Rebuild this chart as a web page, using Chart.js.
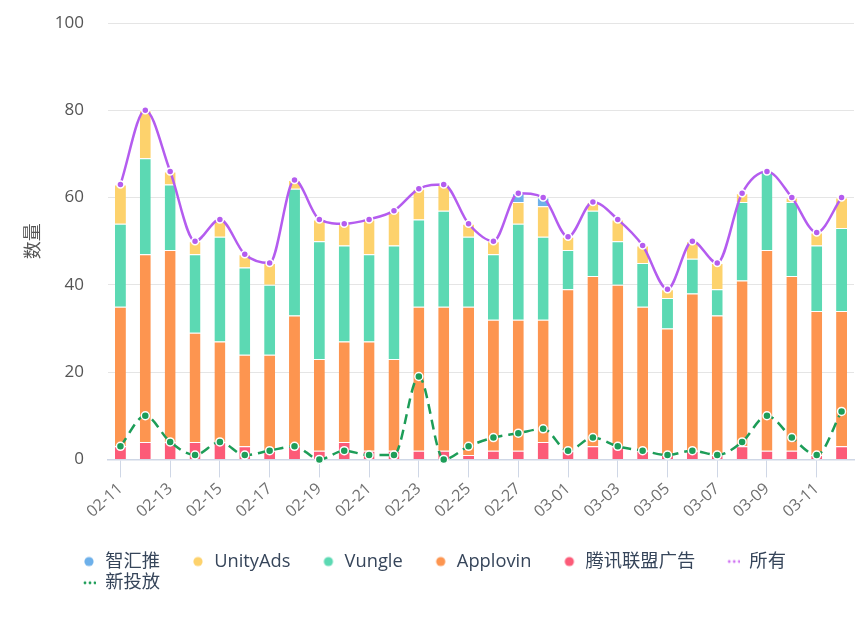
<!DOCTYPE html>
<html>
<head>
<meta charset="utf-8">
<script src="https://cdn.jsdelivr.net/npm/chart.js@4.4.1/dist/chart.umd.min.js"></script>
<style>
  body { margin: 0; background: #fff; }
  #wrap { width: 865px; height: 617px; }
</style>
</head>
<body>
<div id="wrap"><canvas id="mycanvas"></canvas></div>
<script>
var dates = ['02-11','02-12','02-13','02-14','02-15','02-16','02-17','02-18','02-19','02-20',
             '02-21','02-22','02-23','02-24','02-25','02-26','02-27','02-28','03-01','03-02',
             '03-03','03-04','03-05','03-06','03-07','03-08','03-09','03-10','03-11','03-12'];
var tencent  = [3,4,4,4,4,3,2,3,2,4,2,2,2,2,1,2,2,4,2,3,3,2,1,2,1,3,2,2,1,3];
var applovin = [32,43,44,25,23,21,22,30,21,23,25,21,33,33,34,30,30,28,37,39,37,33,29,36,32,38,46,40,33,31];
var vungle   = [19,22,15,18,24,20,16,29,27,22,20,26,20,22,16,15,22,19,9,15,10,10,7,8,6,18,18,17,15,19];
var unityAds = [9,11,3,3,4,3,5,2,5,5,8,8,7,6,3,3,5,7,3,2,5,4,2,4,6,2,0,1,3,7];
var zhihui   = [0,0,0,0,0,0,0,0,0,0,0,0,0,0,0,0,2,2,0,0,0,0,0,0,0,0,0,0,0,0];
var allTotal = [63,80,66,50,55,47,45,64,55,54,55,57,62,63,54,50,61,60,51,59,55,49,39,50,45,61,66,60,52,60];
var newAds   = [3,10,4,1,4,1,2,3,0,2,1,1,19,0,3,5,6,7,2,5,3,2,1,2,1,4,10,5,1,11];
var yTicks   = [0,20,40,60,80,100];

var FONT = "'Open Sans', 'Noto Sans CJK SC', sans-serif";

// legend marker: empty space on the left, dot(s) on the right
function marker(color, dots) {
	var c = document.createElement('canvas');
	c.width = 42; c.height = 18;
	var g = c.getContext('2d');
	g.fillStyle = color;
	if (dots) {
		[32, 37, 42].forEach(function(x){
			g.beginPath(); g.arc(x - 1, 9, 1.4, 0, Math.PI*2); g.fill();
		});
	} else {
		g.beginPath(); g.arc(35, 9, 4.6, 0, Math.PI*2); g.fill();
	}
	return c;
}

function bar(label, data, color) {
	return {
		type: 'bar', label: label, data: data, stack: 'bars', order: 1,
		backgroundColor: color, borderColor: '#fff',
		borderWidth: {top: 1, left: 0, right: 0, bottom: 0},
		barPercentage: 0.55, categoryPercentage: 0.8,
		legendMarker: marker(color, false)
	};
}

var datasets = [
	bar('腾讯联盟广告', tencent, '#fc5b78'),
	bar('Applovin', applovin, '#fd9550'),
	bar('Vungle', vungle, '#5cd9b3'),
	bar('UnityAds', unityAds, '#fdd26c'),
	bar('智汇推', zhihui, '#6db0ea'),
	{
		type: 'line', label: '所有', data: allTotal, stack: 'all', order: 0,
		borderColor: '#b45cef', borderWidth: 2.5, fill: false,
		cubicInterpolationMode: 'monotone', clip: false,
		pointRadius: 3.5, pointBackgroundColor: '#b45cef', pointBorderColor: '#fff', pointBorderWidth: 1.5,
		legendMarker: marker('#cf72f2', true)
	},
	{
		type: 'line', label: '新投放', data: newAds, stack: 'new', order: 0,
		borderColor: '#1d9d58', borderWidth: 2.5, borderDash: [10, 6], fill: false,
		cubicInterpolationMode: 'monotone', clip: false,
		pointRadius: 4, pointBackgroundColor: '#1d9d58', pointBorderColor: '#fff', pointBorderWidth: 1.5,
		legendMarker: marker('#1d9d58', true)
	}
];

var legendOrder = ['智汇推', 'UnityAds', 'Vungle', 'Applovin', '腾讯联盟广告', '所有', '新投放'];

var yTitle = {
	id: 'yTitle',
	afterDraw: function(chart) {
		var ctx = chart.ctx, a = chart.chartArea;
		ctx.save();
		ctx.translate(32, (a.top + a.bottom) / 2);
		ctx.rotate(-Math.PI / 2);
		ctx.font = "18px 'Noto Sans CJK SC', sans-serif";
		ctx.fillStyle = '#555';
		ctx.textAlign = 'center';
		ctx.textBaseline = 'middle';
		ctx.fillText('数量', 0, 0);
		ctx.restore();
	}
};

var ctx = document.getElementById('mycanvas');
var chart = new Chart(ctx, {
	data: { labels: dates, datasets: datasets },
	plugins: [yTitle],
	options: {
		responsive: true,
		maintainAspectRatio: false,
		animation: false,
		layout: { padding: { left: 51, right: 11, top: 23, bottom: 15 } },
		plugins: {
			tooltip: { enabled: false },
			legend: {
				position: 'bottom',
				align: 'start',
				labels: {
					usePointStyle: true,
					pointStyleWidth: 42,
					padding: 3,
					color: '#36455a',
					font: { family: FONT, size: 18.3 },
					generateLabels: function(chart) {
						var items = Chart.defaults.plugins.legend.labels.generateLabels(chart);
						items.forEach(function(it){
							it.pointStyle = chart.data.datasets[it.datasetIndex].legendMarker;
							it.lineWidth = 0;
						});
						items.sort(function(a, b){
							return legendOrder.indexOf(a.text) - legendOrder.indexOf(b.text);
						});
						return items;
					}
				}
			}
		},
		scales: {
			x: {
				stacked: true,
				afterFit: function(s){ s.height = 90; },
				border: { color: '#cfd7e6', width: 1.5 },
				grid: {
					offset: false, drawOnChartArea: false, drawTicks: true, tickLength: 18,
					color: function(c){ return c.index % 2 ? 'rgba(0,0,0,0)' : '#cfd7e6'; }
				},
				ticks: {
					autoSkip: false, minRotation: 42, maxRotation: 42, padding: 2,
					color: '#707070', font: { family: FONT, size: 16 },
					callback: function(v, i){ return i % 2 ? '' : dates[i]; }
				}
			},
			y: {
				stacked: true,
				min: 0, max: 100,
				afterFit: function(s){ s.width = 57; },
				afterBuildTicks: function(s){ s.ticks = yTicks.map(function(v){ return {value: v}; }); },
				border: { display: false },
				grid: { color: '#e5e5e5', drawTicks: true, tickLength: 22, tickColor: 'rgba(0,0,0,0)' },
				ticks: { padding: 2, color: '#555', font: { family: FONT, size: 17 } }
			}
		}
	}
});
</script>
</body>
</html>
